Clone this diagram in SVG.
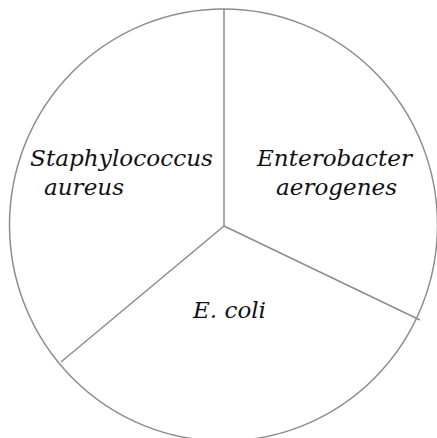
<svg xmlns="http://www.w3.org/2000/svg" width="437" height="438" viewBox="0 0 437 438">
<style>
.edge{stroke:#8c8c8c;stroke-width:1.5;fill:none}
.lbl{font-family:"DejaVu Serif","Liberation Serif",serif;font-style:italic;font-size:21.5px;fill:#111}
</style>
<rect width="437" height="438" fill="#fff"/>
<g id="pie">
<ellipse cx="223.5" cy="225" rx="214" ry="216" class="edge"/>
</g>
<g id="connectors">
<line x1="224" y1="226" x2="224" y2="9" class="edge"/>
<line x1="224" y1="226" x2="61" y2="362" class="edge"/>
<line x1="224" y1="226" x2="420" y2="320" class="edge"/>
</g>
<g id="staph">
<text class="lbl" x="30" y="166" textLength="183" lengthAdjust="spacingAndGlyphs">Staphylococcus</text>
<text class="lbl" x="44" y="195" textLength="80" lengthAdjust="spacingAndGlyphs">aureus</text>
</g>
<g id="entero">
<text class="lbl" x="257" y="166" textLength="155" lengthAdjust="spacingAndGlyphs">Enterobacter</text>
<text class="lbl" x="276" y="195" textLength="121" lengthAdjust="spacingAndGlyphs">aerogenes</text>
</g>
<g id="ecoli">
<text class="lbl" x="193" y="318" textLength="73" lengthAdjust="spacingAndGlyphs">E. coli</text>
</g>
</svg>
